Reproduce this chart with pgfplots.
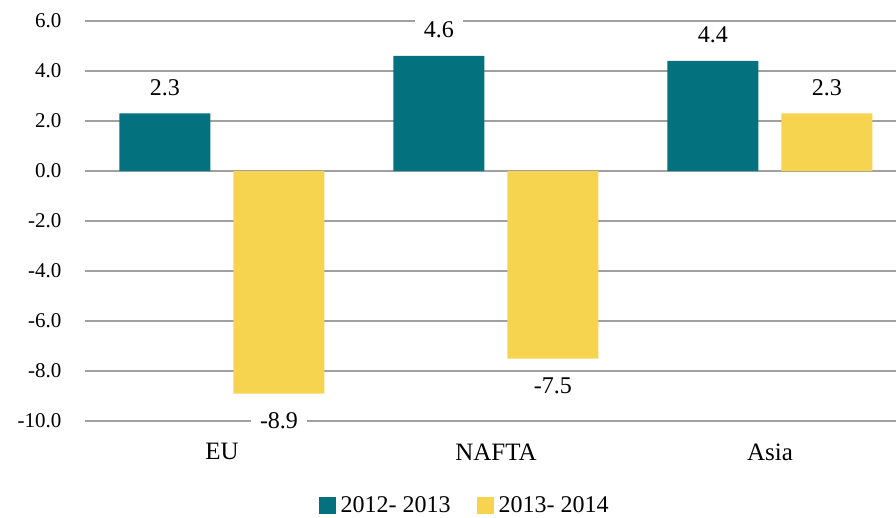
\documentclass[border=0pt]{standalone}
\usepackage{fontspec}
\setmainfont{Liberation Serif}
\usepackage{pgfplots}
\pgfplotsset{compat=1.18}
\definecolor{cteal}{RGB}{3,114,126}
\definecolor{cyel}{RGB}{246,212,79}
\definecolor{cgrid}{RGB}{160,160,160}
\begin{document}
\begin{tikzpicture}
\useasboundingbox (-85pt,-96pt) rectangle (811pt,421pt);
\begin{axis}[
  at={(0pt,0pt)}, anchor=south west,
  scale only axis, width=811pt, height=400pt,
  xmin=-0.5, xmax=2.46, ymin=-10, ymax=6,
  enlargelimits=false,
  axis line style={draw=none},
  major tick length=0pt,
  ybar=23pt, bar width=91pt,
  xtick={0,1,2}, xticklabels={EU,NAFTA,Asia},
  ytick={-10,-8,-6,-4,-2,0,2,4,6},
  yticklabels={\mbox{-10.0},\mbox{-8.0},\mbox{-6.0},\mbox{-4.0},\mbox{-2.0},\mbox{0.0},\mbox{2.0},\mbox{4.0},\mbox{6.0}},
  ymajorgrids, grid style={cgrid, line width=1.5pt},
  yticklabel style={font=\fontsize{21}{25}\selectfont, xshift=-20pt},
  xticklabel style={font=\fontsize{25}{30}\selectfont, yshift=-19pt},
  nodes near coords, point meta=explicit symbolic,
  nodes near coords align={anchor=center},
  visualization depends on={y \as \rawy},
  every node near coord/.append style={font=\fontsize{24}{28}\selectfont, fill=white, inner xsep=9pt, inner ysep=5pt, text=black, anchor=center, yshift={\rawy<0 ? -27 : 26}},
  legend style={at={(0.468,-0.21)}, anchor=center, draw=none, fill=none,
    legend columns=2, font=\fontsize{24}{28}\selectfont,
    /tikz/every even column/.append style={column sep=24pt},
    legend cell align=left},
  legend image code/.code={\fill[#1] (0pt,-8.5pt) rectangle (17pt,8.5pt); \path (20pt,0pt);},
]
\addplot[fill=cteal, draw=none] coordinates {(0,2.3) [2.3] (1,4.6) [4.6] (2,4.4) [4.4]};
\addplot[fill=cyel, draw=none] coordinates {(0,-8.9) [-8.9] (1,-7.5) [-7.5] (2,2.3) [2.3]};
\legend{2012- 2013,2013- 2014}
\end{axis}
\end{tikzpicture}
\end{document}
